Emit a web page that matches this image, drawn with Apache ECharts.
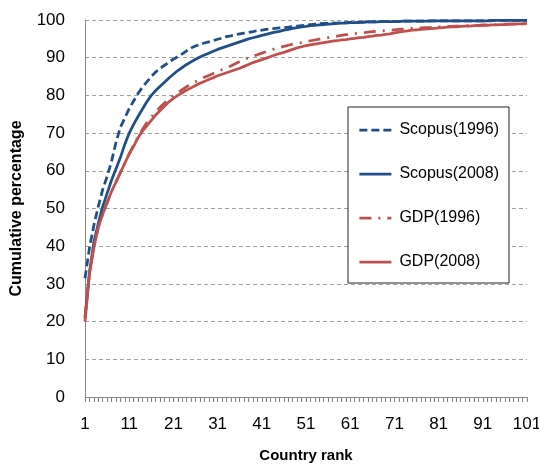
<!DOCTYPE html>
<html>
<head>
<meta charset="utf-8">
<script src="https://cdn.jsdelivr.net/npm/echarts@6/dist/echarts.min.js"></script>
<style>
html,body{margin:0;padding:0;background:#fff;}
#chart{width:539px;height:466px;}
</style>
</head>
<body>
<div id="chart"></div>
<script>
// Country ranks 1..101
const ranks = [
  '1','2','3','4','5','6','7','8','9','10',
  '11','12','13','14','15','16','17','18','19','20',
  '21','22','23','24','25','26','27','28','29','30',
  '31','32','33','34','35','36','37','38','39','40',
  '41','42','43','44','45','46','47','48','49','50',
  '51','52','53','54','55','56','57','58','59','60',
  '61','62','63','64','65','66','67','68','69','70',
  '71','72','73','74','75','76','77','78','79','80',
  '81','82','83','84','85','86','87','88','89','90',
  '91','92','93','94','95','96','97','98','99','100','101'
];

const scopus1996 = [
  31.5,39.5,45.5,50.5,55,58.5,62.5,67.5,71.5,74,
  76.5,78.5,80.5,82.2,83.6,85,86.2,87.2,88,88.8,
  89.6,90.3,91,91.8,92.6,93.1,93.5,93.9,94.2,94.5,
  94.9,95.2,95.6,95.8,96.1,96.3,96.5,96.7,96.9,97.2,
  97.3,97.5,97.6,97.8,97.9,98,98.1,98.3,98.4,98.5,
  98.6,98.8,98.9,99,99.1,99.1,99.2,99.2,99.3,99.3,
  99.4,99.4,99.4,99.5,99.5,99.5,99.5,99.6,99.6,99.6,
  99.6,99.6,99.7,99.7,99.7,99.7,99.7,99.7,99.8,99.8,
  99.8,99.8,99.8,99.8,99.8,99.8,99.8,99.8,99.8,99.8,
  99.8,99.8,99.9,99.9,99.9,99.9,99.9,99.9,99.9,99.9,100
];

const scopus2008 = [
  21,33,41,46,50.5,54,57.5,60.5,63.5,67,
  70,72.3,74.4,76.4,78.3,80,81.3,82.4,83.5,84.6,
  85.6,86.6,87.4,88.2,88.9,89.6,90.2,90.7,91.2,91.7,
  92.2,92.6,93,93.4,93.8,94.2,94.6,95,95.3,95.6,
  95.9,96.2,96.5,96.8,97,97.3,97.5,97.8,98,98.2,
  98.3,98.5,98.6,98.7,98.8,98.9,99,99.1,99.2,99.2,
  99.3,99.3,99.4,99.4,99.5,99.5,99.5,99.6,99.6,99.6,
  99.6,99.6,99.7,99.7,99.7,99.7,99.7,99.7,99.7,99.8,
  99.8,99.8,99.8,99.8,99.8,99.8,99.8,99.8,99.8,99.8,
  99.8,99.8,99.8,99.9,99.9,99.9,99.9,99.9,99.9,99.9,99.9
];

const gdp1996 = [
  21,33,40,45,48.5,51.5,54.5,57,59.5,62,
  64.5,66.8,69,71,72.8,74.2,75.6,76.9,78,79,
  79.9,80.7,81.5,82.3,83,83.6,84.2,84.8,85.3,85.8,
  86.3,86.8,87.3,87.8,88.4,89,89.5,90,90.4,90.8,
  91.2,91.6,92,92.4,92.7,93,93.3,93.6,93.8,94,
  94.3,94.5,94.7,94.9,95.1,95.3,95.5,95.7,95.9,96.1,
  96.2,96.4,96.5,96.6,96.8,96.9,97,97.1,97.2,97.3,
  97.4,97.5,97.6,97.7,97.8,97.8,97.9,98,98,98.1,
  98.2,98.2,98.3,98.3,98.4,98.4,98.5,98.5,98.6,98.6,
  98.7,98.7,98.8,98.8,98.8,98.9,98.9,98.9,99,99,99
];

const gdp2008 = [
  20,32.5,39.5,45,48.5,51.5,54.5,57,59.5,62,
  64.5,66.5,68.8,70.5,72,73.4,74.8,76,77.2,78.3,
  79.2,80,80.7,81.4,82,82.6,83.2,83.7,84.2,84.7,
  85.2,85.6,86,86.4,86.8,87.2,87.7,88.2,88.7,89.1,
  89.5,89.9,90.3,90.7,91.1,91.4,91.8,92.2,92.6,92.9,
  93.2,93.4,93.6,93.8,94,94.2,94.4,94.5,94.7,94.8,
  95,95.1,95.3,95.4,95.6,95.7,95.9,96,96.2,96.3,
  96.6,96.8,97,97.1,97.3,97.4,97.5,97.6,97.7,97.8,
  97.9,98,98.1,98.2,98.2,98.3,98.4,98.4,98.5,98.5,
  98.6,98.6,98.7,98.7,98.8,98.8,98.9,98.9,99,99,99.1
];

const seriesNames = ['Scopus(1996)', 'Scopus(2008)', 'GDP(1996)', 'GDP(2008)'];
const yTitle = 'Cumulative percentage';
const xTitle = 'Country rank';

const BLUE = '#1F4E89';
const RED = '#C0504D';
const FONT = 'Liberation Sans, Arial, sans-serif';

const chart = echarts.init(document.getElementById('chart'), null, {renderer: 'canvas'});

function lineSeries(name, data, color, type) {
  return {
    name: name,
    type: 'line',
    data: data,
    symbol: 'none',
    showSymbol: false,
    smooth: false,
    color: color,
    lineStyle: {color: color, width: 2.75, type: type},
    itemStyle: {color: color},
    emphasis: {disabled: true}
  };
}

chart.setOption({
  animation: false,
  backgroundColor: '#fff',
  textStyle: {fontFamily: FONT},
  grid: {left: 85, right: 12, top: 20, bottom: 69, containLabel: false, outerBoundsMode: 'none'},
  legend: {
    orient: 'vertical',
    left: 348,
    top: 107,
    padding: [15, 10, 13, 10],
    itemWidth: 32,
    itemHeight: 14,
    itemGap: 28,
    borderColor: '#222',
    borderWidth: 1,
    backgroundColor: '#fff',
    itemStyle: {opacity: 0},
    lineStyle: {width: 2.75},
    textStyle: {fontFamily: FONT, fontSize: 16, color: '#000', padding: [0, 0, 0, 3]},
    data: seriesNames
  },
  xAxis: {
    type: 'category',
    data: ranks,
    boundaryGap: false,
    name: xTitle,
    nameLocation: 'middle',
    nameGap: 51,
    nameTextStyle: {fontFamily: FONT, fontSize: 15, fontWeight: 'bold', color: '#000'},
    axisLine: {show: true, lineStyle: {color: '#868686', width: 1}},
    axisTick: {show: true, interval: 0, length: 5, lineStyle: {color: '#868686'}},
    axisLabel: {interval: 9, fontSize: 17, color: '#000', margin: 19, fontFamily: FONT},
    splitLine: {show: false}
  },
  yAxis: {
    type: 'value',
    min: 0,
    max: 100,
    interval: 10,
    name: yTitle,
    nameLocation: 'middle',
    nameGap: 60,
    nameTextStyle: {fontFamily: FONT, fontSize: 16, fontWeight: 'bold', color: '#000'},
    axisLine: {show: true, lineStyle: {color: '#868686', width: 1}},
    axisTick: {show: false},
    axisLabel: {fontSize: 17, color: '#000', margin: 20, fontFamily: FONT},
    splitLine: {show: true, lineStyle: {color: '#A0A0A0', width: 1, type: [4, 3]}}
  },
  series: [
    lineSeries(seriesNames[0], scopus1996, BLUE, [8, 4]),
    lineSeries(seriesNames[1], scopus2008, BLUE, 'solid'),
    lineSeries(seriesNames[2], gdp1996, RED, [12, 7, 2, 7]),
    lineSeries(seriesNames[3], gdp2008, RED, 'solid')
  ]
});
</script>
</body>
</html>
